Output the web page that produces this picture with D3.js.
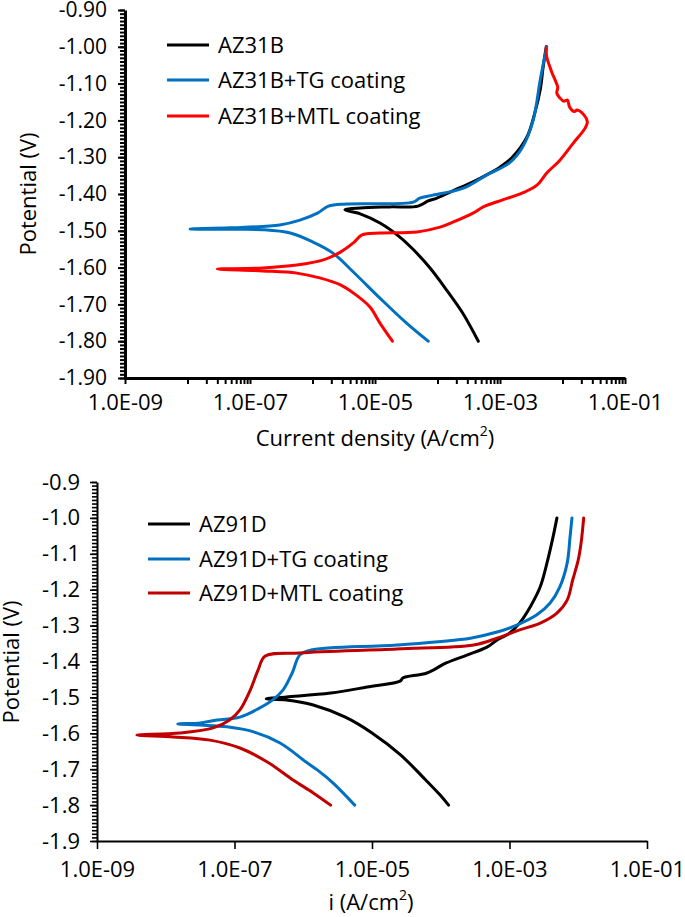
<!DOCTYPE html>
<html>
<head>
<meta charset="utf-8">
<script src="https://cdn.jsdelivr.net/npm/d3@7/dist/d3.min.js"></script>
<style>
  html, body { margin: 0; padding: 0; background: #fff; }
  svg { display: block; }
</style>
</head>
<body>
<svg id="chart" width="685" height="917"></svg>
<script>
// ---------------- DATA ----------------
// Top chart (AZ31B)
const az31Names = ["AZ31B", "AZ31B+TG coating", "AZ31B+MTL coating"];
const az31Colors = ["#000000", "#0070C0", "#FF0000"];

const az31bI = [4.5e-4, 2.5e-4, 1.4e-4, 7.6e-5, 4.1e-5, 2.5e-5, 1.2e-5, 5.8e-6, 3.3e-6, 5.8e-6, 1.7e-5, 4.9e-5, 7.1e-5, 9.8e-5, 1.9e-4, 3.7e-4, 6.9e-4, 1.0e-3, 1.6e-3, 2.7e-3, 3.6e-3, 4.4e-3, 4.9e-3, 5.5e-3];
const az31bE = [-1.80, -1.722, -1.661, -1.601, -1.551, -1.517, -1.479, -1.454, -1.443, -1.438, -1.435, -1.433, -1.419, -1.411, -1.389, -1.367, -1.343, -1.327, -1.299, -1.245, -1.180, -1.117, -1.055, -1.00];

const az31tgI = [7.1e-5, 3.2e-5, 1.2e-5, 4.5e-6, 2.1e-6, 1.0e-6, 4.4e-7, 1.6e-7, 5.0e-8, 1.1e-8, 4.8e-8, 3.0e-7, 6.3e-7, 1.2e-6, 1.8e-6, 3.5e-6, 4.1e-5, 5.2e-5, 8.5e-5, 2.6e-4, 6.2e-4, 1.4e-3, 2.3e-3, 3.4e-3, 4.4e-3, 5.6e-3];
const az31tgE = [-1.80, -1.751, -1.683, -1.612, -1.560, -1.530, -1.506, -1.497, -1.496, -1.495, -1.492, -1.484, -1.471, -1.452, -1.433, -1.427, -1.422, -1.411, -1.403, -1.384, -1.348, -1.316, -1.272, -1.199, -1.090, -1.00];

const az31mtlI = [1.9e-5, 1.2e-5, 8.3e-6, 4.5e-6, 2.8e-6, 1.3e-6, 5.6e-7, 1.6e-7, 3.0e-8, 1.6e-7, 5.6e-7, 1.5e-6, 2.8e-6, 4.5e-6, 6.2e-6, 1.2e-5, 4.7e-5, 1.1e-4, 1.8e-4, 3.7e-4, 5.4e-4, 1.1e-3, 2.3e-3, 3.9e-3, 5.6e-3, 9.1e-3, 1.5e-2, 2.3e-2, 2.5e-2, 2.2e-2, 1.7e-2, 1.55e-2, 1.3e-2, 1.2e-2, 1.05e-2, 9.1e-3, 8.1e-3, 8.4e-3, 7.6e-3, 6.8e-3, 6.3e-3, 5.6e-3, 5.5e-3];
const az31mtlE = [-1.80, -1.751, -1.707, -1.669, -1.647, -1.628, -1.615, -1.609, -1.604, -1.601, -1.593, -1.579, -1.558, -1.533, -1.511, -1.506, -1.503, -1.490, -1.476, -1.452, -1.435, -1.416, -1.397, -1.376, -1.343, -1.308, -1.261, -1.221, -1.204, -1.185, -1.172, -1.176, -1.164, -1.145, -1.148, -1.139, -1.126, -1.110, -1.090, -1.071, -1.055, -1.028, -1.00];

// Bottom chart (AZ91D)
const az91Names = ["AZ91D", "AZ91D+TG coating", "AZ91D+MTL coating"];
const az91Colors = ["#000000", "#0070C0", "#C00000"];

const az91dI = [1.3e-4, 9.8e-5, 5.5e-5, 2.6e-5, 1.0e-5, 4.1e-6, 1.4e-6, 5.7e-7, 2.9e-7, 5.7e-7, 2.5e-6, 8.5e-6, 2.6e-5, 2.8e-5, 6.3e-5, 1.2e-4, 2.4e-4, 4.7e-4, 6.6e-4, 1.0e-3, 1.4e-3, 2.0e-3, 2.8e-3, 3.6e-3, 4.3e-3, 4.9e-3];
const az91dE = [-1.80, -1.772, -1.722, -1.660, -1.599, -1.555, -1.521, -1.507, -1.504, -1.499, -1.488, -1.471, -1.454, -1.446, -1.432, -1.404, -1.382, -1.360, -1.340, -1.321, -1.293, -1.248, -1.192, -1.117, -1.053, -1.00];

const az91tgI = [5.6e-6, 2.7e-6, 1.6e-6, 1.1e-6, 4.6e-7, 1.9e-7, 7.8e-8, 3.2e-8, 1.5e-8, 3.2e-8, 5.6e-8, 1.2e-7, 2.3e-7, 3.6e-7, 5.1e-7, 6.9e-7, 8.9e-7, 1.3e-6, 2.3e-5, 2.7e-4, 6.6e-4, 1.3e-3, 2.5e-3, 3.9e-3, 5.4e-3, 6.9e-3, 7.6e-3, 8.1e-3];
const az91tgE = [-1.80, -1.738, -1.702, -1.680, -1.627, -1.596, -1.582, -1.577, -1.574, -1.571, -1.563, -1.555, -1.530, -1.507, -1.479, -1.432, -1.382, -1.368, -1.354, -1.335, -1.318, -1.298, -1.270, -1.237, -1.192, -1.126, -1.053, -1.00];

const az91mtlI = [2.5e-6, 1.4e-6, 7.1e-7, 3.0e-7, 1.2e-7, 4.4e-8, 1.3e-8, 3.8e-9, 1.6e-8, 4.9e-8, 8.5e-8, 1.2e-7, 1.7e-7, 2.2e-7, 2.8e-7, 8.9e-7, 2.3e-5, 3.0e-4, 6.6e-4, 1.4e-3, 2.8e-3, 4.9e-3, 6.9e-3, 8.3e-3, 1.0e-2, 1.1e-2, 1.2e-2];
const az91mtlE = [-1.80, -1.766, -1.730, -1.680, -1.641, -1.619, -1.610, -1.605, -1.599, -1.585, -1.563, -1.535, -1.479, -1.424, -1.385, -1.376, -1.365, -1.354, -1.335, -1.312, -1.293, -1.265, -1.229, -1.173, -1.117, -1.070, -1.00];

// Axis ticks
const xMajorTicks = [1e-9, 1e-7, 1e-5, 1e-3, 1e-1];
const yMajorTicks = [-1.9, -1.8, -1.7, -1.6, -1.5, -1.4, -1.3, -1.2, -1.1, -1.0, -0.9];

// ---------------- DRAW ----------------
const svg = d3.select("#chart");
const FONT = "'Open Sans', sans-serif";

function fmtE(v) {
  const e = Math.round(Math.log10(v));
  const s = e < 0 ? "-" : "+";
  return "1.0E" + s + String(Math.abs(e)).padStart(2, "0");
}

function drawChart(cfg) {
  const g = svg.append("g");
  const x = d3.scaleLog().domain([1e-9, 1e-1]).range(cfg.xRange);
  const y = d3.scaleLinear().domain([-1.9, -0.9]).range(cfg.yRange);

  // y minor ticks
  const yMinor = d3.range(0, 101).map(k => -1.9 + k * 0.01);
  g.append("g")
    .attr("transform", `translate(${cfg.xRange[0]},0)`)
    .call(d3.axisLeft(y).tickValues(yMinor).tickSize(5).tickSizeOuter(0).tickFormat(""))
    .call(a => a.select(".domain").remove())
    .call(a => a.selectAll("line").attr("stroke", "#000").attr("stroke-width", cfg.tickW));

  // y major
  g.append("g")
    .attr("transform", `translate(${cfg.xRange[0]},0)`)
    .call(d3.axisLeft(y).tickValues(yMajorTicks).tickSize(7).tickSizeOuter(0)
      .tickPadding(cfg.yPad).tickFormat(d => d.toFixed(cfg.yDec)))
    .call(a => a.select(".domain").attr("stroke", "#000").attr("stroke-width", cfg.axisW))
    .call(a => a.selectAll("line").attr("stroke", "#000").attr("stroke-width", cfg.tickW))
    .call(a => a.selectAll("text").attr("font-family", FONT).attr("font-size", cfg.yFont).attr("fill", "#000"));

  // x minor ticks
  if (cfg.xMinor) {
    const vals = [];
    [-8, -6, -4, -2].forEach(e => { for (let m = 1; m <= 9; m++) vals.push(m * Math.pow(10, e)); });
    g.append("g")
      .attr("transform", `translate(0,${cfg.yRange[0]})`)
      .call(d3.axisBottom(x).tickValues(vals).tickSize(6).tickSizeOuter(0).tickFormat(""))
      .call(a => a.select(".domain").remove())
      .call(a => a.selectAll("line").attr("stroke", "#000").attr("stroke-width", cfg.tickW));
  }

  // x major
  g.append("g")
    .attr("transform", `translate(0,${cfg.yRange[0]})`)
    .call(d3.axisBottom(x).tickValues(xMajorTicks).tickSize(cfg.xTick).tickSizeOuter(0)
      .tickPadding(cfg.xPad).tickFormat(fmtE))
    .call(a => a.select(".domain").attr("stroke", "#000").attr("stroke-width", cfg.axisW))
    .call(a => a.selectAll("line").attr("stroke", "#000").attr("stroke-width", cfg.tickW))
    .call(a => a.selectAll("text").attr("font-family", FONT).attr("font-size", 22).attr("fill", "#000"));

  // curves
  const line = d3.line()
    .x(d => x(d[0]))
    .y(d => y(d[1]))
    .curve(d3.curveCatmullRom.alpha(0.5));

  cfg.series.forEach((s, k) => {
    const pts = s.i.map((v, j) => [v, s.e[j]]);
    g.append("path")
      .datum(pts)
      .attr("d", line)
      .attr("fill", "none")
      .attr("stroke", cfg.colors[k])
      .attr("stroke-width", 3)
      .attr("stroke-linejoin", "round")
      .attr("stroke-linecap", "round");
  });

  // legend
  cfg.names.forEach((n, k) => {
    const ly = cfg.legY[k];
    g.append("line")
      .attr("x1", cfg.legX).attr("x2", cfg.legX + 42)
      .attr("y1", ly).attr("y2", ly)
      .attr("stroke", cfg.colors[k]).attr("stroke-width", 3.2);
    g.append("text")
      .attr("x", cfg.legX + 51).attr("y", ly + 8)
      .attr("font-family", FONT).attr("font-size", 22).attr("fill", "#000")
      .text(n);
  });

  // y title
  g.append("text")
    .attr("transform", `translate(${cfg.yTitleX},${cfg.yTitleY}) rotate(-90)`)
    .attr("text-anchor", "middle")
    .attr("font-family", FONT).attr("font-size", 22).attr("fill", "#000")
    .text("Potential (V)");

  // x title
  const xt = g.append("text")
    .attr("x", cfg.xTitleX).attr("y", cfg.xTitleY)
    .attr("text-anchor", "middle")
    .attr("font-family", FONT).attr("font-size", 22).attr("fill", "#000");
  xt.append("tspan").text(cfg.xTitle);
  xt.append("tspan").attr("font-size", 14).attr("dy", -10).text("2");
  xt.append("tspan").attr("dy", 10).text(")");
}

drawChart({
  xRange: [125, 625], yRange: [378, 10],
  axisW: 3, tickW: 2, yPad: 11, yDec: 2, yFont: 21, xMinor: true, xTick: 6, xPad: 10,
  names: az31Names, colors: az31Colors,
  series: [{ i: az31bI, e: az31bE }, { i: az31tgI, e: az31tgE }, { i: az31mtlI, e: az31mtlE }],
  legX: 167, legY: [45, 80, 116],
  yTitleX: 36, yTitleY: 194,
  xTitle: "Current density (A/cm", xTitleX: 375, xTitleY: 446
});

drawChart({
  xRange: [97, 647], yRange: [841, 482],
  axisW: 2, tickW: 1.6, yPad: 10, yDec: 1, yFont: 22, xMinor: false, xTick: 8, xPad: 12,
  names: az91Names, colors: az91Colors,
  series: [{ i: az91dI, e: az91dE }, { i: az91tgI, e: az91tgE }, { i: az91mtlI, e: az91mtlE }],
  legX: 148, legY: [524, 559, 593],
  yTitleX: 19, yTitleY: 662,
  xTitle: "i (A/cm", xTitleX: 371, xTitleY: 910
});
</script>
</body>
</html>
